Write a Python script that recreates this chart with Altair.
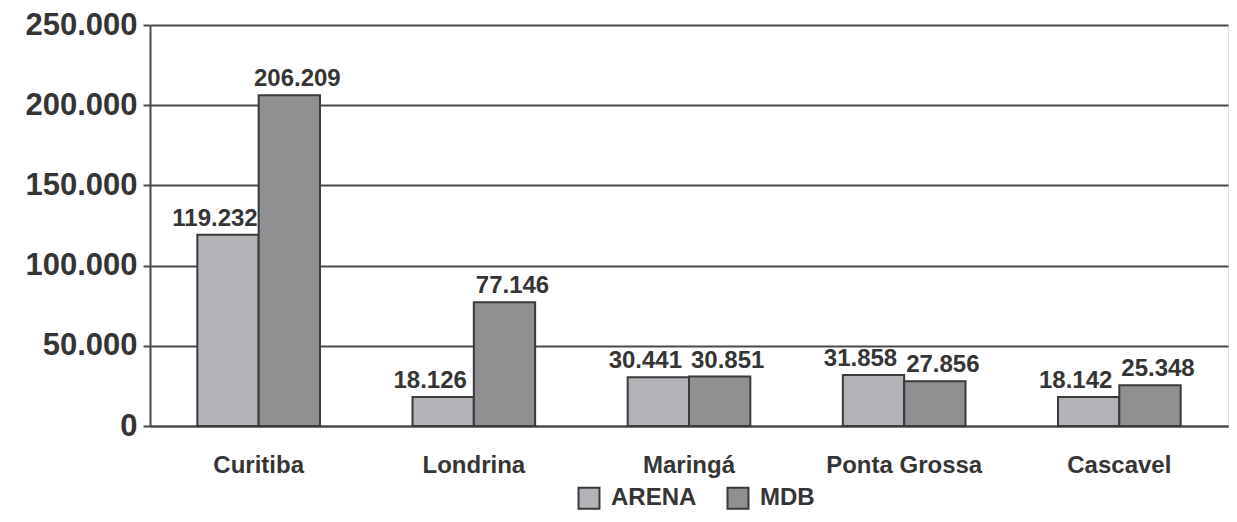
import altair as alt
import pandas as pd

cities = ["Curitiba", "Londrina", "Maringá", "Ponta Grossa", "Cascavel"]
arena = [119232, 18126, 30441, 31858, 18142]
mdb = [206209, 77146, 30851, 27856, 25348]
parties = ["ARENA", "MDB"]
colors = ["#b2b3b6", "#909093"]

rows = []
for c, a, m in zip(cities, arena, mdb):
    for p, v in zip(parties, [a, m]):
        rows.append({"city": c, "party": p, "votes": v,
                     "label": f"{v:,}".replace(",", ".")})
df = pd.DataFrame(rows)

FONT = "Liberation Sans"
TXT = "#353535"
LINE = "#4a4a4a"

x = alt.X("city:N", sort=cities, title=None,
          scale=alt.Scale(paddingInner=0.43, paddingOuter=0.22),
          axis=alt.Axis(labelAngle=0, labelFont=FONT, labelFontSize=24,
                        labelFontWeight="bold", labelColor=TXT, ticks=False,
                        labelPadding=27, domainColor=LINE, domainWidth=2))
xo = alt.XOffset("party:N", sort=parties, scale=alt.Scale(paddingInner=0, paddingOuter=0))
y = alt.Y("votes:Q", title=None,
          scale=alt.Scale(domain=[0, 250000], nice=False),
          axis=alt.Axis(values=[0, 50000, 100000, 150000, 200000, 250000],
                        labelExpr="replace(format(datum.value, ','), ',', '.')",
                        labelFont=FONT, labelFontSize=31, labelFontWeight="bold",
                        labelColor=TXT, tickSize=7, tickColor=LINE, tickWidth=2,
                        labelPadding=6, grid=True, gridColor=LINE, gridWidth=2,
                        domainColor=LINE, domainWidth=2))

base = alt.Chart(df)
bars = base.mark_bar(stroke="#3a3a3a", strokeWidth=2).encode(
    x=x, xOffset=xo, y=y,
    color=alt.Color("party:N", sort=parties,
                    scale=alt.Scale(domain=parties, range=colors),
                    legend=alt.Legend(title=None, orient="none", direction="horizontal",
                                      legendX=427, legendY=461,
                                      symbolType="square", symbolSize=440,
                                      symbolStrokeColor="#3a3a3a", symbolStrokeWidth=2,
                                      labelFont=FONT, labelFontSize=24,
                                      labelFontWeight="bold", labelColor=TXT,
                                      labelOffset=10, columnPadding=26)),
)

def labels(party, dx):
    return base.transform_filter(alt.datum.party == party).mark_text(
        font=FONT, fontSize=24, fontWeight="bold", color=TXT,
        baseline="bottom", dy=-4, dx=dx
    ).encode(x=x, xOffset=xo, y=y, text="label:N")

chart = alt.layer(bars, labels("ARENA", -13), labels("MDB", 8)).properties(
    width=1078, height=401,
    autosize=alt.AutoSizeParams(type="none"),
    padding={"left": 142, "top": 17, "right": 1, "bottom": 88},
).configure_view(stroke=LINE, strokeWidth=2).configure(background="white")

chart.save("out.html", embed_options={"renderer": "svg", "actions": False})
